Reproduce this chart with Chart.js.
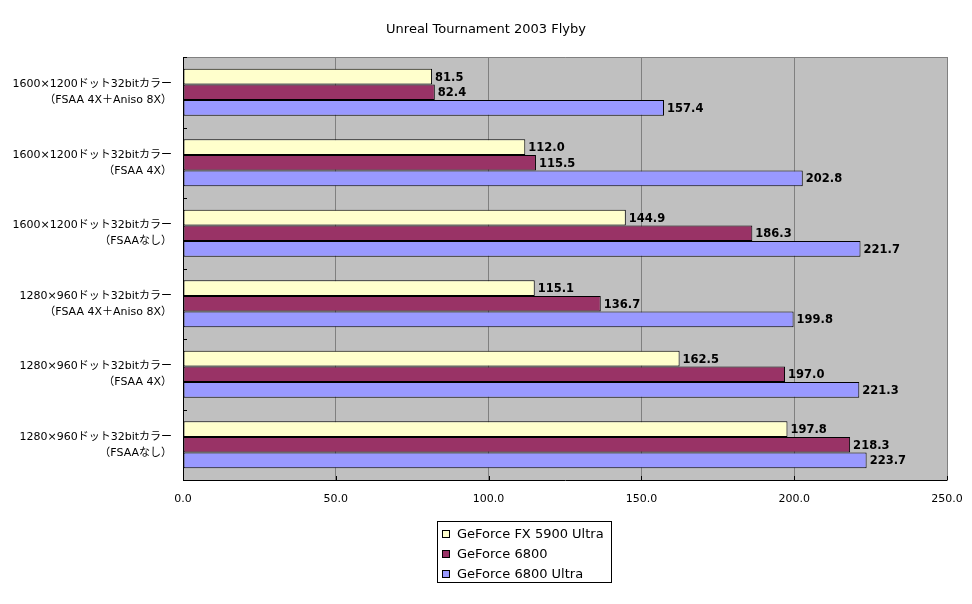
<!DOCTYPE html>
<html>
<head>
<meta charset="utf-8">
<script src="https://cdn.jsdelivr.net/npm/chart.js@4"></script>
<style>
  body { margin: 0; background: #fff; }
  #wrap { width: 972px; height: 604px; }
</style>
</head>
<body>
<div id="wrap"><canvas id="myChart" width="972" height="604"></canvas></div>
<script>
var FONT = "'DejaVu Sans', 'Noto Sans CJK JP', sans-serif";

var categories = [
  ["1600×1200ドット32bitカラー", "（FSAA 4X＋Aniso 8X）"],
  ["1600×1200ドット32bitカラー", "（FSAA 4X）"],
  ["1600×1200ドット32bitカラー", "（FSAAなし）"],
  ["1280×960ドット32bitカラー", "（FSAA 4X＋Aniso 8X）"],
  ["1280×960ドット32bitカラー", "（FSAA 4X）"],
  ["1280×960ドット32bitカラー", "（FSAAなし）"],
];
var seriesNames = ["GeForce FX 5900 Ultra", "GeForce 6800", "GeForce 6800 Ultra"];
var fx5900 = [81.5, 112.0, 144.9, 115.1, 162.5, 197.8];
var gf6800 = [82.4, 115.5, 186.3, 136.7, 197.0, 218.3];
var gf6800u = [157.4, 202.8, 221.7, 199.8, 221.3, 223.7];
var seriesColors = ["#FFFFCC", "#993366", "#9999FF"];
var xTicks = [0, 50, 100, 150, 200, 250];

// plot background, frame, small ticks, value labels, title and legend
var decor = {
  id: "decor",
  beforeDraw: function (chart) {
    var a = chart.chartArea, c = chart.ctx;
    c.save();
    c.fillStyle = "#C0C0C0";
    c.fillRect(a.left, a.top, a.right - a.left, a.bottom - a.top);
    c.restore();
  },
  afterDatasetsDraw: function (chart) {
    var a = chart.chartArea, c = chart.ctx;
    var x = chart.scales.x;
    c.save();
    // frame
    c.strokeStyle = "#808080";
    c.lineWidth = 1;
    c.beginPath();
    c.moveTo(a.left, a.top + 0.5); c.lineTo(a.right + 0.5, a.top + 0.5);
    c.lineTo(a.right + 0.5, a.bottom);
    c.stroke();
    c.strokeStyle = "#000";
    c.beginPath();
    c.moveTo(a.left + 0.5, a.top); c.lineTo(a.left + 0.5, a.bottom + 0.5);
    c.lineTo(a.right + 0.5, a.bottom + 0.5);
    c.stroke();
    // category ticks on the left axis
    var band = (a.bottom - a.top) / categories.length;
    c.beginPath();
    for (var i = 0; i <= categories.length; i++) {
      var ty = Math.round(a.top + band * i) + 0.5;
      c.moveTo(a.left, ty); c.lineTo(a.left + 4, ty);
    }
    // value ticks on the bottom axis
    xTicks.forEach(function (v) {
      var tx = Math.round(x.getPixelForValue(v)) + 0.5;
      c.moveTo(tx, a.bottom); c.lineTo(tx, a.bottom - 4);
    });
    c.stroke();

    // value labels
    c.fillStyle = "#000";
    c.font = "bold 11.5px " + FONT;
    c.textBaseline = "middle";
    c.textAlign = "left";
    chart.data.datasets.forEach(function (ds, di) {
      chart.getDatasetMeta(di).data.forEach(function (bar, i) {
        c.fillText(ds.data[i].toFixed(1), bar.x + 3, bar.y + 1);
      });
    });

    // title
    c.font = "13px " + FONT;
    c.textAlign = "center";
    c.fillText("Unreal Tournament 2003 Flyby", 486, 30);

    // legend
    var lx = 437, ly = 521, lw = 174, lh = 61;
    c.strokeStyle = "#000";
    c.strokeRect(lx + 0.5, ly + 0.5, lw, lh);
    c.font = "13px " + FONT;
    c.textAlign = "left";
    seriesNames.forEach(function (name, i) {
      var cy = ly + 13 + i * 20;
      c.fillStyle = seriesColors[i];
      c.fillRect(lx + 5, cy - 4, 8, 8);
      c.strokeStyle = "#000";
      c.strokeRect(lx + 5.5, cy - 3.5, 7, 7);
      c.fillStyle = "#000";
      c.fillText(name, lx + 20, cy + 1);
    });
    c.restore();
  },
};

var ctx = document.getElementById("myChart").getContext("2d");

var myChart = new Chart(ctx, {
  type: "bar",
  data: {
    labels: categories,
    datasets: [
      { label: seriesNames[0], data: fx5900, backgroundColor: seriesColors[0] },
      { label: seriesNames[1], data: gf6800, backgroundColor: seriesColors[1] },
      { label: seriesNames[2], data: gf6800u, backgroundColor: seriesColors[2] },
    ],
  },
  plugins: [decor],
  options: {
    responsive: false,
    animation: false,
    indexAxis: "y",
    layout: {
      padding: { top: 57, right: 25, bottom: 94, left: 0 },
    },
    datasets: {
      bar: {
        borderColor: "#000",
        borderWidth: 1,
        borderSkipped: false,
        categoryPercentage: 0.667,
        barPercentage: 1.0,
      },
    },
    plugins: {
      legend: { display: false },
      title: { display: false },
      tooltip: { enabled: false },
    },
    scales: {
      x: {
        min: 0,
        max: 250,
        afterBuildTicks: function (scale) {
          scale.ticks = xTicks.map(function (v) { return { value: v }; });
        },
        afterFit: function (scale) {
          scale.height = 30;
          scale.paddingLeft = 0;
          scale.paddingRight = 0;
        },
        border: { display: false },
        grid: { color: "#808080", lineWidth: 1, drawTicks: false },
        ticks: {
          color: "#000",
          padding: 13,
          font: { family: FONT, size: 11 },
          callback: function (v) { return Number(v).toFixed(1); },
        },
      },
      y: {
        afterFit: function (scale) { scale.width = 183; },
        border: { display: false },
        grid: { display: false, drawTicks: false },
        ticks: {
          color: "#000",
          padding: 11,
          font: { family: FONT, size: 11, lineHeight: 1.45 },
        },
      },
    },
  },
});
</script>
</body>
</html>
